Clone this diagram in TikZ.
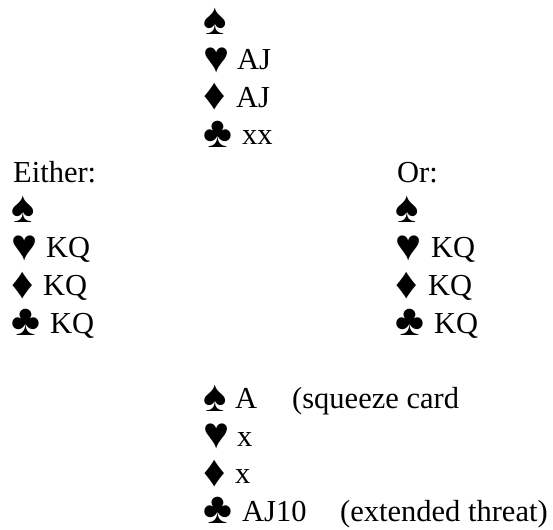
\documentclass[tikz,border=0pt]{standalone}
\usepackage{fontspec}
\setmainfont{Liberation Serif}
\newfontfamily\suitfont{Liberation Serif}
\begin{document}
\begin{tikzpicture}[x=1pt,y=1pt,
  txt/.style={anchor=base west, inner sep=0pt, font=\fontsize{30.5}{36}\selectfont},
  suit/.style={anchor=base west, inner sep=0pt, text height=24pt, text depth=2pt, font=\suitfont\fontsize{44}{48}\selectfont}]
\useasboundingbox (0,0) rectangle (553,-529);
\def\B#1{-(32+37.65*#1)}
\def\S#1{-(34.5+37.65*#1)}
% North
\node[suit] (ns) at (203.5,{\S{0}}) {♠};
\node[suit] (nh) at (203.5,{\S{1}}) {♥};
\node[txt]  (nht) at (237,{\B{1}}) {AJ};
\node[suit] (nd) at (203.5,{\S{2}}) {♦};
\node[txt]  (ndt) at (236,{\B{2}}) {AJ};
\node[suit] (nc) at (203.5,{\S{3}}) {♣};
\node[txt]  (nct) at (242,{\B{3}}) {xx};
% West
\node[txt]  (wl) at (13,{\B{4}}) {Either:};
\node[suit] (ws) at (11.5,{\S{5}}) {♠};
\node[suit] (wh) at (11.5,{\S{6}}) {♥};
\node[txt]  (wht) at (46,{\B{6}}) {KQ};
\node[suit] (wd) at (11.5,{\S{7}}) {♦};
\node[txt]  (wdt) at (43,{\B{7}}) {KQ};
\node[suit] (wc) at (11.5,{\S{8}}) {♣};
\node[txt]  (wct) at (50,{\B{8}}) {KQ};
% East
\node[txt]  (el) at (397,{\B{4}}) {Or:};
\node[suit] (es) at (395.5,{\S{5}}) {♠};
\node[suit] (eh) at (395.5,{\S{6}}) {♥};
\node[txt]  (eht) at (431,{\B{6}}) {KQ};
\node[suit] (ed) at (395.5,{\S{7}}) {♦};
\node[txt]  (edt) at (428,{\B{7}}) {KQ};
\node[suit] (ec) at (395.5,{\S{8}}) {♣};
\node[txt]  (ect) at (434,{\B{8}}) {KQ};
% South
\node[suit] (ss) at (203.5,{\S{10}}) {♠};
\node[txt]  (sst) at (235,{\B{10}}) {A};
\node[txt]  (ssn) at (292,{\B{10}}) {(squeeze card};
\node[suit] (sh) at (203.5,{\S{11}}) {♥};
\node[txt]  (sht) at (237,{\B{11}}) {x};
\node[suit] (sd) at (203.5,{\S{12}}) {♦};
\node[txt]  (sdt) at (235,{\B{12}}) {x};
\node[suit] (sc) at (203.5,{\S{13}}) {♣};
\node[txt]  (sct) at (242,{\B{13}}) {AJ10};
\node[txt]  (scn) at (340,{\B{13}}) {(extended threat)};
\end{tikzpicture}
\end{document}
